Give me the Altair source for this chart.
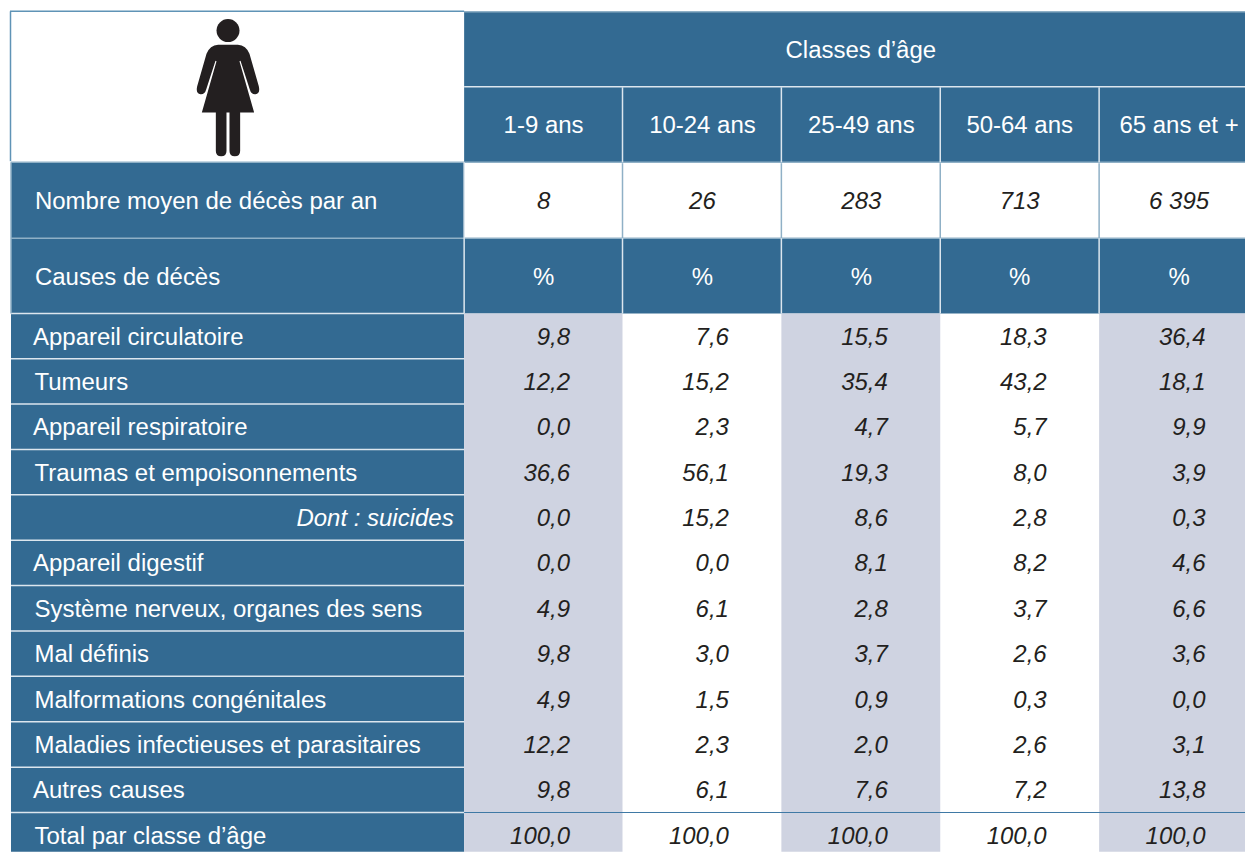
import altair as alt
import pandas as pd

# ---------- chart values ----------
age_title = "Classes d’âge"
age_classes = ["1-9 ans", "10-24 ans", "25-49 ans", "50-64 ans", "65 ans et +"]
deaths_label = "Nombre moyen de décès par an"
deaths_per_year = ["8", "26", "283", "713", "6 395"]
causes_label = "Causes de décès"
causes = ["Appareil circulatoire", "Tumeurs", "Appareil respiratoire",
          "Traumas et empoisonnements", "Dont : suicides", "Appareil digestif",
          "Système nerveux, organes des sens", "Mal définis",
          "Malformations congénitales", "Maladies infectieuses et parasitaires",
          "Autres causes", "Total par classe d’âge"]
age_1_9 = [9.8, 12.2, 0.0, 36.6, 0.0, 0.0, 4.9, 9.8, 4.9, 12.2, 9.8, 100.0]
age_10_24 = [7.6, 15.2, 2.3, 56.1, 15.2, 0.0, 6.1, 3.0, 1.5, 2.3, 6.1, 100.0]
age_25_49 = [15.5, 35.4, 4.7, 19.3, 8.6, 8.1, 2.8, 3.7, 0.9, 2.0, 7.6, 100.0]
age_50_64 = [18.3, 43.2, 5.7, 8.0, 2.8, 8.2, 3.7, 2.6, 0.3, 2.6, 7.2, 100.0]
age_65 = [36.4, 18.1, 9.9, 3.9, 0.3, 4.6, 6.6, 3.6, 0.0, 3.1, 13.8, 100.0]
series = [age_1_9, age_10_24, age_25_49, age_50_64, age_65]

# ---------- layout (page pixels) ----------
ORIGIN = 8
W, H = 1238, 844
col_edges = [464.5, 623, 782, 941, 1100, 1258]
row_top = [11, 86.5, 162, 238, 313.5]
row_h = 45.42
n = len(causes)
data_edges = [313.2 + i * row_h for i in range(n + 1)]

BLUE = "#336a92"
GREY = "#cfd3e1"
INK = "#231f20"
SOFT = "#8fb0c6"
PALE = "#dce6ee"
FONT = "Liberation Sans"
FS = 24

def X(v): return min(v - ORIGIN, W)
def Y(v): return min(v - ORIGIN, H)

rects, rules, tx = [], [], []
def rect(x0, x1, y0, y1, fill):
    rects.append(dict(x0=X(x0), x1=X(x1), y0=Y(y0), y1=Y(y1), fill=fill))
def rule(x0, x1, y0, y1, color, w=1.5):
    rules.append(dict(x0=X(x0), x1=X(x1), y0=Y(y0), y1=Y(y1), color=color, w=w))
def text(x, y, s, group):
    tx.append(dict(x=X(x), y=Y(y), s=s, group=group))

# header + label blocks
L = col_edges[0]
rect(L, 1258, row_top[0], row_top[2], BLUE)
rect(L, 1258, row_top[3], row_top[4], BLUE)
rect(11, L, row_top[2], data_edges[-1], BLUE)
for c in (0, 2, 4):
    rect(col_edges[c], col_edges[c + 1], row_top[4], data_edges[-1], GREY)

# rules
rule(10, L, 11, 11, "#5f93b6")
rule(L, 1258, 11.5, 11.5, SOFT)
rule(10.5, 10.5, 11, 161, "#5f93b6")
rule(L, 1258, 86.5, 86.5, PALE)
rule(11, 1258, 162, 162, SOFT)
rule(11, 1258, 238, 238, SOFT)
rule(11, L, 313.5, 313.5, PALE)
rule(L, L, 162, 313.5, PALE)
rule(11, 11, 162, 313.5, SOFT)
for x in col_edges[1:5]:
    rule(x, x, 87, 162, PALE)
    rule(x, x, 163, 238, SOFT)
    rule(x, x, 238, 313.5, PALE)
for y in data_edges[1:-1]:
    rule(11, L, y, y, PALE)
rule(L, 1258, data_edges[-2], data_edges[-2], "#3f79a5", 1.2)

# texts
text(861.5, 51, age_title, "head")
centers = [544, 703, 862, 1020.5, 1180]
for i, a in enumerate(age_classes):
    text(centers[i], 126, a, "head")
    text(centers[i], 202, deaths_per_year[i], "center")
    text(centers[i], 277.5, "%", "head")
text(35, 202, deaths_label, "left")
text(35, 277.5, causes_label, "left")
right_edges = [570.5, 729.5, 888.5, 1047.5, 1206.5]
for r, cause in enumerate(causes):
    cy = 337.5 + r * row_h
    if cause.startswith("Dont"):
        text(454, cy, cause, "rightlabel")
    else:
        text(33 if cause.startswith("App") or cause.startswith("Autres") else 34.5, cy, cause, "left")
    for c, vals in enumerate(series):
        text(right_edges[c], cy, f"{vals[r]:.1f}".replace(".", ","), "right")

# woman icon: half outline, mirrored about the figure's axis
CX, CY, SPAN = 684.5, 302.5, 165.0  # in 3x picture units, half of icon span
start = (684.5, 133)
segs = [((655, 133),), ((630, 135), (620, 160)), ((592, 258),),
        ((587, 280), (602, 282)), ((615, 283), (619, 268)), ((647, 181),),
        ((650, 183),), ((606, 337),), ((648, 337),), ((648, 452),),
        ((648, 468), (664, 468)), ((680, 468), (680, 452)), ((680, 337),),
        ((684.5, 337),)]
def fmt(p, sign=1):
    return f"{sign * (p[0] - CX) / SPAN:.4f},{(p[1] - CY) / SPAN:.4f}"
def icon_path():
    out = ["M" + fmt(start)]
    pts = [start]
    for s in segs:
        out.append(("L" if len(s) == 1 else "Q") + " ".join(fmt(p) for p in s))
        pts.append(s[-1])
    for i in range(len(segs) - 1, -1, -1):
        s = segs[i]
        prev = pts[i]
        if len(s) == 1:
            out.append("L" + fmt(prev, -1))
        else:
            out.append("Q" + fmt(s[0], -1) + " " + fmt(prev, -1))
    out.append("Z")
    return " ".join(out)
icon_df = pd.DataFrame([dict(x=X(CX / 3), y=Y(CY / 3))])
head_df = pd.DataFrame([dict(x=X(228.2), y=Y(30.2))])

sx = alt.Scale(domain=[0, W], range=[0, W], nice=False, zero=False)
sy = alt.Scale(domain=[0, H], range=[0, H], nice=False, zero=False)
ex = alt.X("x0:Q", scale=sx, axis=None)
ey = alt.Y("y0:Q", scale=sy, axis=None)

rect_l = alt.Chart(pd.DataFrame(rects)).mark_rect(strokeWidth=0).encode(
    x=ex, x2="x1:Q", y=ey, y2="y1:Q", color=alt.Color("fill:N", scale=None))
rule_l = alt.Chart(pd.DataFrame(rules)).mark_rule().encode(
    x=ex, x2="x1:Q", y=ey, y2="y1:Q", color=alt.Color("color:N", scale=None),
    strokeWidth=alt.StrokeWidth("w:Q", scale=None))

tdf = pd.DataFrame(tx)
def tlayer(group, **kw):
    return alt.Chart(tdf[tdf.group == group]).mark_text(
        font=FONT, fontSize=FS, baseline="middle", **kw).encode(
        x=alt.X("x:Q", scale=sx, axis=None), y=alt.Y("y:Q", scale=sy, axis=None), text="s:N")

layers = [rect_l, rule_l,
          tlayer("head", align="center", color="white"),
          tlayer("left", align="left", color="white"),
          tlayer("rightlabel", align="right", color="white", fontStyle="italic"),
          tlayer("center", align="center", color=INK, fontStyle="italic"),
          tlayer("right", align="right", color=INK, fontStyle="italic"),
          alt.Chart(icon_df).mark_point(shape=icon_path(), filled=True, opacity=1, color=INK,
                                        size=(2 * SPAN / 3) ** 2, strokeWidth=0).encode(
              x=alt.X("x:Q", scale=sx, axis=None), y=alt.Y("y:Q", scale=sy, axis=None)),
          alt.Chart(head_df).mark_point(shape="circle", filled=True, opacity=1, color=INK,
                                        size=23 ** 2, strokeWidth=0).encode(
              x=alt.X("x:Q", scale=sx, axis=None), y=alt.Y("y:Q", scale=sy, axis=None)),
          ]

chart = alt.layer(*layers).properties(
    width=W, height=H, padding=0, background="white",
).configure_view(stroke=None)
chart.save("out.html", embed_options={"renderer": "svg", "actions": False,
    "defaultStyle": ("html{overflow:visible!important}"
                     "body{width:1238px!important;overflow:visible!important}"
                     "#vis{overflow:visible!important;width:1238px!important;min-width:1238px!important;max-width:none!important}"
                     "#vis svg{flex:none!important;max-width:none!important;"
                     "min-width:1238px!important;width:1238px!important;overflow:visible!important}")})
